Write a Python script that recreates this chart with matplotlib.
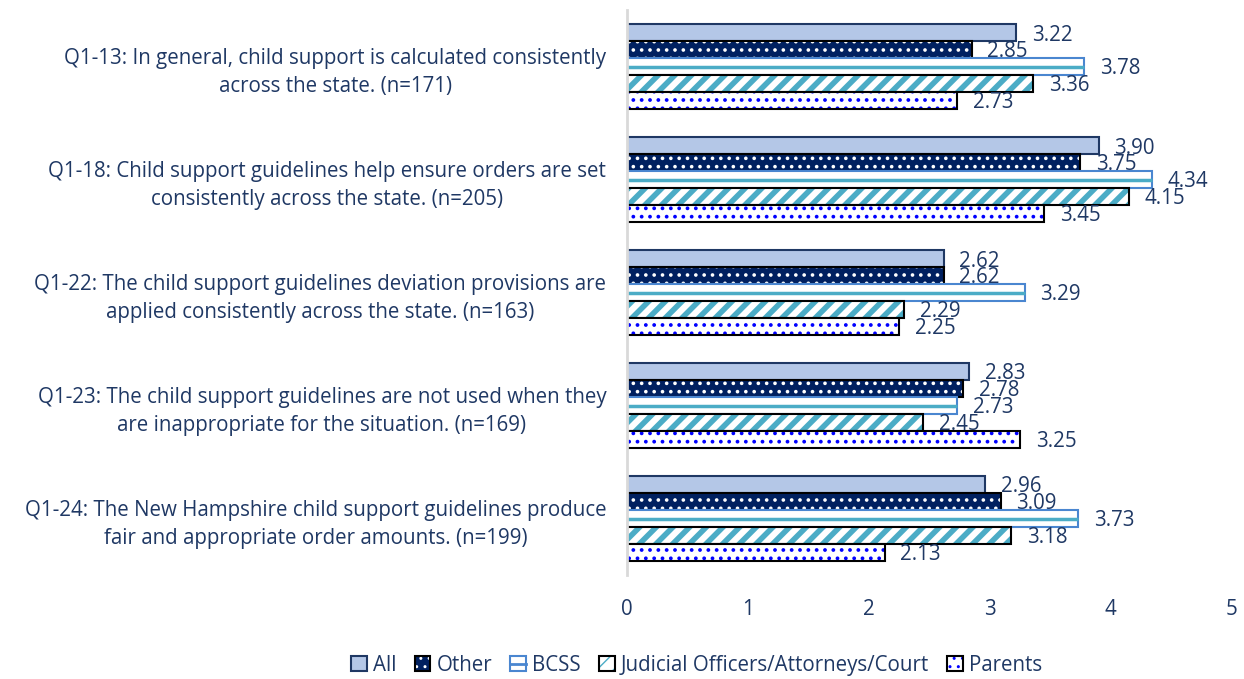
import matplotlib
matplotlib.use("Agg")
import matplotlib.pyplot as plt
import numpy as np
from matplotlib.legend_handler import HandlerTuple
from matplotlib.lines import Line2D

plt.rcParams['font.family'] = ['Open Sans', 'DejaVu Sans']

questions = [
    "Q1-13: In general, child support is calculated consistently\nacross the state. (n=171)",
    "Q1-18: Child support guidelines help ensure orders are set\nconsistently across the state. (n=205)",
    "Q1-22: The child support guidelines deviation provisions are\napplied consistently across the state. (n=163)",
    "Q1-23: The child support guidelines are not used when they\nare inappropriate for the situation. (n=169)",
    "Q1-24: The New Hampshire child support guidelines produce\nfair and appropriate order amounts. (n=199)",
]
groups = ["All", "Other", "BCSS", "Judicial Officers/Attorneys/Court", "Parents"]
all_vals = [3.22, 3.90, 2.62, 2.83, 2.96]
other_vals = [2.85, 3.75, 2.62, 2.78, 3.09]
bcss_vals = [3.78, 4.34, 3.29, 2.73, 3.73]
judicial_vals = [3.36, 4.15, 2.29, 2.45, 3.18]
parents_vals = [2.73, 3.45, 2.25, 3.25, 2.13]
x_ticks = [0, 1, 2, 3, 4, 5]

series = [all_vals, other_vals, bcss_vals, judicial_vals, parents_vals]
# face, hatch colour, hatch, hatch width, border
styles = [
    ("#b4c7e7", "#b4c7e7", None, 1.0, "#1f3864"),
    ("#002060", "white", "..", 1.4, "#000000"),
    ("white", "#4bacc6", None, 1.0, "#4a86d0"),
    ("white", "#4bacc6", "//", 4.0, "#000000"),
    ("white", "#0000ff", "..", 1.5, "#000000"),
]
txt = "#1f3864"
fs = 14.8

fig = plt.figure(figsize=(12.44, 6.79), dpi=100)
ax = fig.add_axes([0.504, 0.153, 0.486, 0.832])

y = np.arange(len(questions))
h = 0.15
handles = []
for i, (vals, (fc, hc, hatch, hlw, ec)) in enumerate(zip(series, styles)):
    pos = y + (i - 2) * h
    with plt.rc_context({'hatch.linewidth': hlw}):
        ax.barh(pos, vals, height=h, color=fc, edgecolor=hc, hatch=hatch, linewidth=0)
        fill = plt.Rectangle((0, 0), 1, 1, facecolor=fc, edgecolor=hc,
                             hatch=hatch, linewidth=0)
    parts = [fill]
    if groups[i] == "BCSS":
        # single stripe through the middle of each bar
        ax.hlines(pos, 0, vals, color=hc, linewidth=2.5)
        parts.append(Line2D([], [], color=ec, linewidth=2))
    ax.barh(pos, vals, height=h, fill=False, edgecolor=ec, linewidth=1.5)
    for p, v in zip(pos, vals):
        ax.text(v + 0.13, p + 0.02, f"{v:.2f}", va="center", ha="left",
                fontsize=fs, color=txt)
    parts.append(plt.Rectangle((0, 0), 1, 1, fill=False, edgecolor=ec, linewidth=1.5))
    handles.append(tuple(parts))

ax.set_ylim(4.5, -0.5)
ax.set_xlim(0, 5)
ax.set_xticks(x_ticks)
ax.set_xticklabels([str(t) for t in x_ticks], fontsize=fs, color=txt)
ax.set_yticks(y)
ax.set_yticklabels(questions, fontsize=fs, color=txt, multialignment="center",
                   linespacing=1.45)
ax.tick_params(axis="both", length=0)
ax.tick_params(axis="x", pad=17)
ax.tick_params(axis="y", pad=15)
for s in ["top", "right", "bottom"]:
    ax.spines[s].set_visible(False)
ax.spines["left"].set_color("#d9d9d9")
ax.spines["left"].set_linewidth(2)

leg = fig.legend(handles, groups, loc="center", bbox_to_anchor=(0.56, 0.02),
                 ncol=5, frameon=False, fontsize=fs, handlelength=0.75,
                 handleheight=0.75, handletextpad=0.3, columnspacing=0.9,
                 handler_map={tuple: HandlerTuple(ndivide=1)})
for t in leg.get_texts():
    t.set_color(txt)

fig.savefig("out.png", dpi=100)
